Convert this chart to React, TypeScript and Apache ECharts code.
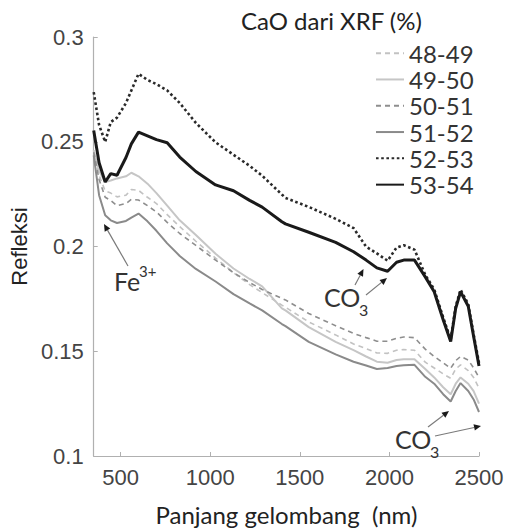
import { useEffect, useRef } from "react";
import * as echarts from "echarts";

const wavelengths = [350, 380, 414, 445, 480, 530, 560, 600, 650, 700, 760, 830, 920, 1030, 1130, 1220, 1290, 1400, 1420, 1550, 1700, 1800, 1870, 1930, 1990, 2040, 2080, 2140, 2200, 2250, 2300, 2342, 2370, 2397, 2440, 2470, 2500];

const cao4849 = [0.246, 0.234, 0.2265, 0.2255, 0.2237, 0.2245, 0.2272, 0.2268, 0.2235, 0.2205, 0.2152, 0.2095, 0.2025, 0.1945, 0.1875, 0.1818, 0.178, 0.172, 0.171, 0.164, 0.1578, 0.1535, 0.1512, 0.1492, 0.149, 0.1505, 0.1508, 0.1505, 0.1448, 0.142, 0.1392, 0.1371, 0.1415, 0.1435, 0.1408, 0.1375, 0.1324];
const cao4950 = [0.246, 0.236, 0.2308, 0.2315, 0.2325, 0.2335, 0.2352, 0.2335, 0.23, 0.2255, 0.2195, 0.2125, 0.2055, 0.1965, 0.1895, 0.1845, 0.181, 0.1705, 0.1695, 0.1615, 0.1545, 0.1505, 0.1475, 0.145, 0.1445, 0.1458, 0.1462, 0.1462, 0.1415, 0.1375, 0.1328, 0.1295, 0.1345, 0.1375, 0.1345, 0.131, 0.125];
const cao5051 = [0.245, 0.232, 0.2235, 0.222, 0.2195, 0.2205, 0.2225, 0.2222, 0.2195, 0.2165, 0.2115, 0.2062, 0.2005, 0.1935, 0.1875, 0.1828, 0.1795, 0.1752, 0.1745, 0.168, 0.1622, 0.1585, 0.1565, 0.1548, 0.1548, 0.1562, 0.1568, 0.1565, 0.151, 0.1475, 0.1445, 0.1419, 0.1455, 0.1475, 0.1458, 0.142, 0.1375];
const cao5152 = [0.2435, 0.2245, 0.2149, 0.2125, 0.2112, 0.2122, 0.2138, 0.2157, 0.212, 0.2075, 0.2015, 0.1955, 0.1893, 0.1833, 0.1773, 0.1728, 0.1695, 0.163, 0.162, 0.1545, 0.1485, 0.145, 0.1432, 0.1415, 0.142, 0.143, 0.1433, 0.1435, 0.1378, 0.1345, 0.1295, 0.126, 0.131, 0.1348, 0.131, 0.127, 0.121];
const cao5253 = [0.2737, 0.258, 0.2499, 0.2594, 0.2615, 0.2685, 0.2745, 0.2824, 0.2795, 0.2775, 0.2745, 0.2685, 0.259, 0.2497, 0.2438, 0.2385, 0.2338, 0.2248, 0.2232, 0.2189, 0.2132, 0.2088, 0.1999, 0.1967, 0.1932, 0.1995, 0.2006, 0.1985, 0.1865, 0.1795, 0.1662, 0.1556, 0.1715, 0.1794, 0.1725, 0.158, 0.1445];
const cao5354 = [0.2554, 0.24, 0.2308, 0.2348, 0.234, 0.2425, 0.249, 0.2546, 0.2528, 0.251, 0.2495, 0.2427, 0.2358, 0.2294, 0.2266, 0.222, 0.2188, 0.2118, 0.2108, 0.2068, 0.202, 0.1975, 0.1935, 0.1898, 0.1882, 0.1925, 0.1935, 0.1935, 0.1855, 0.1784, 0.165, 0.1546, 0.1705, 0.1784, 0.1715, 0.157, 0.143];

const seriesNames = ["48-49", "49-50", "50-51", "51-52", "52-53", "53-54"];
const seriesValues = [cao4849, cao4950, cao5051, cao5152, cao5253, cao5354];
const xTickValues = [500, 1000, 1500, 2000, 2500];

const legendTitle = "CaO dari XRF (%)";
const xAxisName = "Panjang gelombang  (nm)";
const yAxisName = "Refleksi";

const seriesStyles = [
  { color: "#c2c2c2", width: 1.6, type: [5, 4] },
  { color: "#c6c6c6", width: 2, type: "solid" },
  { color: "#8e8e8e", width: 1.6, type: [5, 4] },
  { color: "#8a8a8a", width: 2, type: "solid" },
  { color: "#2a2a2a", width: 2.6, type: [2.6, 2.6] },
  { color: "#1a1a1a", width: 3, type: "solid" },
];

function arrow(x1: number, y1: number, x2: number, y2: number) {
  const dx = x2 - x1;
  const dy = y2 - y1;
  const L = Math.hypot(dx, dy);
  const ux = dx / L;
  const uy = dy / L;
  const hl = 7;
  const hw = 3.2;
  const bx = x2 - ux * hl;
  const by = y2 - uy * hl;
  return [
    { type: "line", shape: { x1, y1, x2: bx, y2: by }, style: { stroke: "#7a7a7a", lineWidth: 1.2 }, z: 100 },
    {
      type: "polygon",
      shape: { points: [[x2, y2], [bx - uy * hw, by + ux * hw], [bx + uy * hw, by - ux * hw]] },
      style: { fill: "#1a1a1a" },
      z: 100,
    },
  ];
}

const FONT = "Lato, 'Open Sans', sans-serif";
const TICKFONT = "'Liberation Sans', Arial, sans-serif";

export default function App() {
  const ref = useRef<HTMLDivElement>(null);
  useEffect(() => {
    if (!ref.current) return;
    const chart = echarts.init(ref.current, null, { renderer: "svg" });
    const series = seriesNames.map((name, si) => ({
      name,
      type: "line",
      symbol: "none",
      showSymbol: false,
      smooth: false,
      z: 2 + si,
      data: wavelengths.map((w, i) => [w, seriesValues[si][i]]),
      lineStyle: { color: seriesStyles[si].color, width: seriesStyles[si].width, type: seriesStyles[si].type },
      itemStyle: { color: seriesStyles[si].color },
    }));
    const graphics: any[] = [
      { type: "text", left: 114, top: 268, style: { text: "Fe", font: `25px ${FONT}`, fill: "#333" }, z: 100 },
      { type: "text", left: 139, top: 263, style: { text: "3+", font: `15px ${FONT}`, fill: "#333" }, z: 100 },
      { type: "text", left: 324, top: 284, style: { text: "CO", font: `25px ${FONT}`, fill: "#333" }, z: 100 },
      { type: "text", left: 359, top: 301, style: { text: "3", font: `16px ${FONT}`, fill: "#333" }, z: 100 },
      { type: "text", left: 395, top: 426, style: { text: "CO", font: `25px ${FONT}`, fill: "#333" }, z: 100 },
      { type: "text", left: 430, top: 443, style: { text: "3", font: `16px ${FONT}`, fill: "#333" }, z: 100 },
      ...arrow(128, 266, 104, 224),
      ...arrow(355, 285, 363.5, 269),
      ...arrow(366, 295, 387, 278),
      ...arrow(428, 427, 449, 411),
      ...arrow(435, 436, 481, 426),
    ];
    chart.setOption({
      animation: false,
      backgroundColor: "#ffffff",
      title: {
        text: legendTitle,
        left: 236,
        top: 3,
        textStyle: { fontFamily: FONT, fontSize: 24, fontWeight: "normal", color: "#222" },
      },
      legend: {
        data: seriesNames,
        orient: "vertical",
        left: 375,
        top: 40,
        itemWidth: 28,
        itemHeight: 14,
        itemGap: 0,
        padding: 0,
        itemStyle: { opacity: 0, borderWidth: 0 },
        textStyle: { fontFamily: FONT, fontSize: 24, color: "#333", lineHeight: 26.3 },
      },
      grid: { left: 91, top: 37, right: 32, bottom: 73, containLabel: false },
      xAxis: {
        type: "value",
        min: 350,
        max: 2500,
        name: xAxisName,
        nameLocation: "middle",
        nameGap: 46,
        nameTextStyle: { fontFamily: FONT, fontSize: 24, color: "#222" },
        axisLine: { show: true, lineStyle: { color: "#b0b0b0", width: 1.2 } },
        axisTick: { show: true, inside: true, length: 4, customValues: xTickValues, lineStyle: { color: "#b0b0b0" } },
        axisLabel: {
          customValues: xTickValues,
          formatter: (v: number) => String(v),
          fontFamily: TICKFONT,
          fontSize: 22,
          color: "#444",
          margin: 10,
        },
        splitLine: { show: false },
      },
      yAxis: {
        type: "value",
        min: 0.1,
        max: 0.3,
        interval: 0.05,
        name: yAxisName,
        nameLocation: "middle",
        nameRotate: 90,
        nameGap: 60,
        nameTextStyle: { fontFamily: TICKFONT, fontSize: 22, color: "#222" },
        axisLine: { show: true, lineStyle: { color: "#b0b0b0", width: 1.2 } },
        axisTick: { show: true, inside: true, length: 4, lineStyle: { color: "#b0b0b0" } },
        axisLabel: { fontFamily: TICKFONT, fontSize: 22, color: "#444", margin: 10 },
        splitLine: { show: false },
      },
      series,
      graphic: graphics,
    });
    return () => chart.dispose();
  }, []);
  return <div ref={ref} style={{ position: "absolute", left: 0, top: 0, width: 511, height: 531 }} />;
}
